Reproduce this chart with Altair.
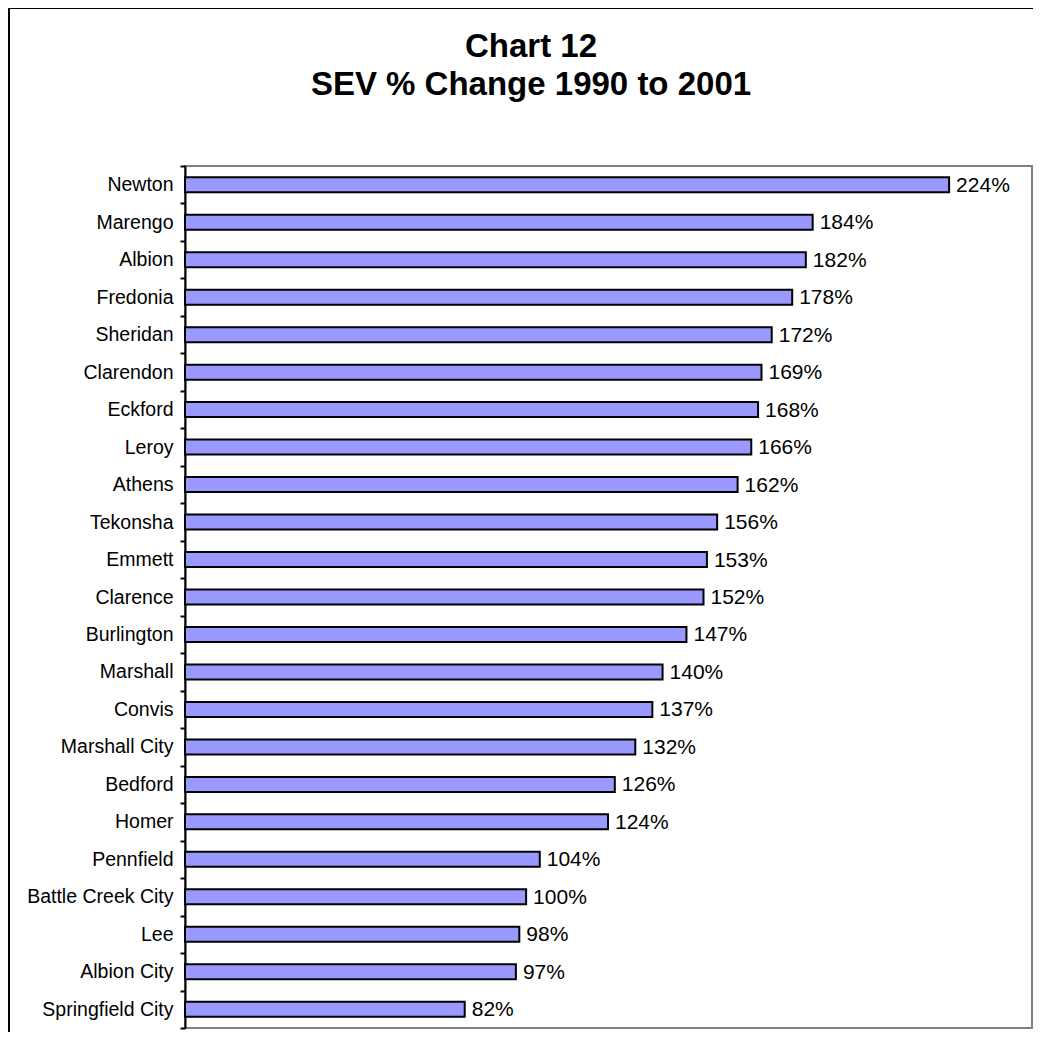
import altair as alt
import pandas as pd

places = ["Newton", "Marengo", "Albion", "Fredonia", "Sheridan", "Clarendon",
          "Eckford", "Leroy", "Athens", "Tekonsha", "Emmett", "Clarence",
          "Burlington", "Marshall", "Convis", "Marshall City", "Bedford",
          "Homer", "Pennfield", "Battle Creek City", "Lee", "Albion City",
          "Springfield City"]
pct = [224, 184, 182, 178, 172, 169, 168, 166, 162, 156, 153, 152,
       147, 140, 137, 132, 126, 124, 104, 100, 98, 97, 82]

title_line1 = "Chart 12"
title_line2 = "SEV % Change 1990 to 2001"

df = pd.DataFrame({"place": places, "pct": pct})

PL, PT, W, H = 177, 158, 847, 862
FONT = "Liberation Sans"

base = alt.Chart(df).encode(
    y=alt.Y("place:N", sort=places, title=None,
            scale=alt.Scale(paddingInner=0, paddingOuter=0),
            axis=alt.Axis(domainColor="black", domainWidth=2,
                          tickColor="black", tickWidth=2, tickSize=5,
                          tickBand="extent", labelFont=FONT, labelFontSize=19.5,
                          labelColor="black", labelPadding=7, grid=False,
                          labelLimit=300)),
    x=alt.X("pct:Q", scale=alt.Scale(domain=[0, 248.3], nice=False, zero=True),
            axis=None),
)

bars = base.mark_bar(size=15, fill="#9999FF", stroke="black", strokeWidth=2)

labels = base.transform_calculate(
    label="datum.pct + '%'"
).mark_text(align="left", baseline="middle", dx=7, dy=1, font=FONT, fontSize=21,
            color="black").encode(text="label:N")

one = alt.Data(values=[{"a": 1}])

frame = alt.Chart(one).mark_rect(
    fillOpacity=0, stroke="black", strokeWidth=2
).encode(
    x=alt.value(-PL + 1), y=alt.value(-PT + 0),
    x2=alt.value(2000), y2=alt.value(2000)
)

t1 = alt.Chart(one).mark_text(
    font=FONT, fontSize=33, fontWeight="bold", color="black",
    align="center", baseline="alphabetic"
).encode(x=alt.value(523 - PL), y=alt.value(49 - PT), text=alt.value(title_line1))

t2 = alt.Chart(one).mark_text(
    font=FONT, fontSize=33, fontWeight="bold", color="black",
    align="center", baseline="alphabetic"
).encode(x=alt.value(523 - PL), y=alt.value(87 - PT), text=alt.value(title_line2))

chart = alt.layer(frame, t1, t2, bars, labels).properties(
    width=W, height=H,
    padding={"left": PL, "top": PT, "right": 1, "bottom": 4},
    autosize=alt.AutoSizeParams(type="none"),
).configure_view(stroke="#808080", strokeWidth=2)

chart.save("out.html", embed_options={"renderer": "svg", "actions": False})
